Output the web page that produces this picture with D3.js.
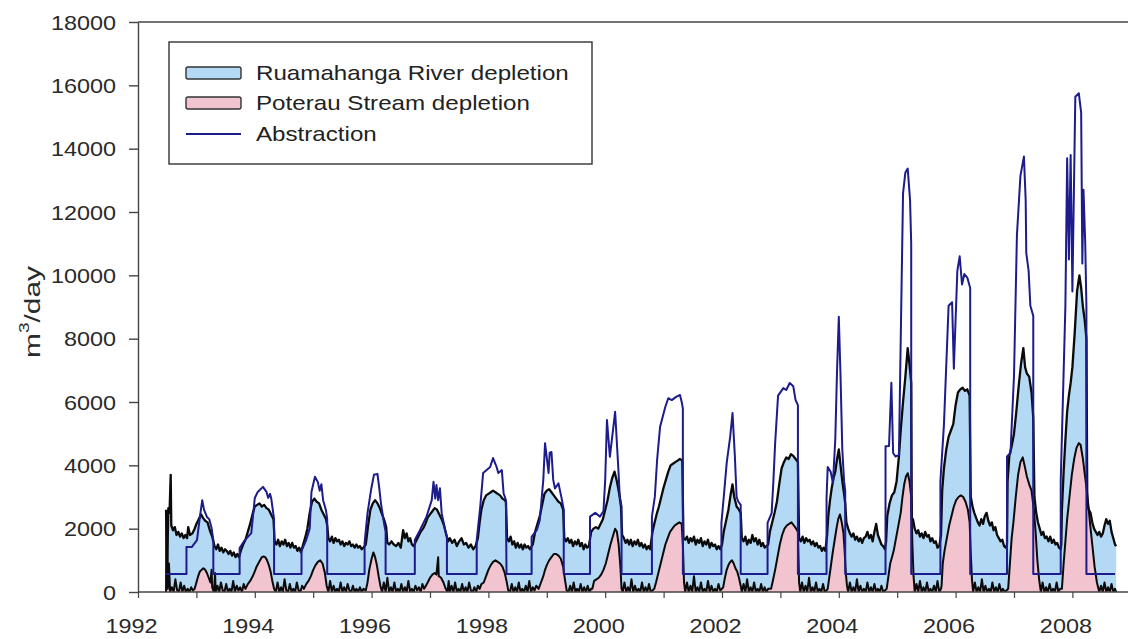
<!DOCTYPE html>
<html><head><meta charset="utf-8">
<script src="https://cdn.jsdelivr.net/npm/d3@7"></script>
<style>
html,body{margin:0;padding:0;background:#fff;}
svg{display:block;font-family:"Liberation Sans",Arial,sans-serif;}
</style></head><body>
<svg id="chart" width="1128" height="639"></svg>
<script>
// ---------------- data ----------------
const legendLabels = ["Ruamahanga River depletion", "Poterau Stream depletion", "Abstraction"];
const yTicks = [0, 2000, 4000, 6000, 8000, 10000, 12000, 14000, 16000, 18000];
const xTicks = [1992, 1993, 1994, 1995, 1996, 1997, 1998, 1999, 2000, 2001, 2002, 2003, 2004, 2005, 2006, 2007, 2008];
const xTickLabels = ["1992", "", "1994", "", "1996", "", "1998", "", "2000", "", "2002", "", "2004", "", "2006", "", "2008"];

// Abstraction [year, m3/day]
const abstraction = [
[1992.48,570],[1992.83,570],[1992.83,1420],[1992.92,1420],[1993.01,1640],[1993.06,2370],[1993.10,2900],[1993.13,2600],[1993.18,2370],[1993.22,2300],[1993.26,2020],[1993.29,1640],[1993.29,570],
[1993.74,570],[1993.74,1390],[1993.83,1640],[1993.94,1860],[1994.00,2970],[1994.05,3160],[1994.14,3320],[1994.20,3160],[1994.23,2970],[1994.26,3100],[1994.28,2970],[1994.31,2570],[1994.33,2300],[1994.33,570],
[1994.80,570],[1994.80,1300],[1994.88,1640],[1994.94,2000],[1994.97,3160],[1995.03,3640],[1995.08,3470],[1995.11,3200],[1995.14,3400],[1995.17,2900],[1995.22,2570],[1995.24,2300],[1995.24,570],
[1995.88,570],[1995.88,1550],[1995.93,2490],[1995.99,3220],[1996.04,3700],[1996.10,3730],[1996.13,3300],[1996.16,2800],[1996.21,2200],[1996.24,1900],[1996.24,570],
[1996.74,570],[1996.74,1640],[1996.83,1960],[1996.94,2380],[1997.03,2900],[1997.06,3480],[1997.09,2950],[1997.11,3380],[1997.14,2900],[1997.17,3280],[1997.20,2490],[1997.26,1960],[1997.29,1750],[1997.29,570],
[1997.80,570],[1997.80,1640],[1997.86,2690],[1997.91,3760],[1998.03,3950],[1998.08,4230],[1998.14,3950],[1998.17,3760],[1998.23,3850],[1998.26,3120],[1998.30,2900],[1998.31,570],
[1998.74,570],[1998.74,1740],[1998.83,1960],[1998.88,2270],[1998.94,3540],[1998.97,4700],[1999.03,3760],[1999.05,4400],[1999.08,4420],[1999.11,3540],[1999.14,3270],[1999.20,3430],[1999.26,2900],[1999.29,2600],[1999.29,570],
[1999.74,570],[1999.74,2380],[1999.83,2500],[1999.91,2380],[1999.97,2550],[2000.00,3540],[2000.03,5430],[2000.08,4270],[2000.17,5690],[2000.22,4060],[2000.25,3010],[2000.28,2700],[2000.28,570],
[2000.80,570],[2000.80,2380],[2000.85,3010],[2000.89,4200],[2000.94,5220],[2001.03,5850],[2001.08,6120],[2001.14,6060],[2001.22,6170],[2001.28,6220],[2001.31,6000],[2001.33,5800],[2001.33,570],
[2001.99,570],[2001.99,2180],[2002.03,3000],[2002.08,4070],[2002.14,4900],[2002.18,5650],[2002.22,4300],[2002.25,3000],[2002.28,2850],[2002.32,2750],[2002.32,570],
[2002.78,570],[2002.78,2180],[2002.85,2490],[2002.88,3500],[2002.91,4700],[2002.96,6200],[2003.05,6440],[2003.10,6380],[2003.16,6600],[2003.22,6500],[2003.26,6060],[2003.30,5900],[2003.30,570],
[2003.79,570],[2003.79,2950],[2003.81,3950],[2003.86,3800],[2003.90,3440],[2003.94,4830],[2003.97,7000],[2004.00,8690],[2004.03,6800],[2004.06,4500],[2004.09,3500],[2004.11,3200],[2004.11,570],
[2004.80,570],[2004.80,4600],[2004.86,4610],[2004.90,6610],[2004.93,4390],[2004.97,4280],[2005.03,4330],[2005.06,7940],[2005.10,12590],[2005.14,13250],[2005.18,13370],[2005.22,12380],[2005.24,11000],[2005.24,570],
[2005.74,570],[2005.74,3500],[2005.80,5270],[2005.88,9040],[2005.94,9150],[2005.97,7050],[2006.03,10150],[2006.07,10600],[2006.11,9710],[2006.15,10040],[2006.20,9930],[2006.25,9600],[2006.25,570],
[2006.88,570],[2006.88,4280],[2006.94,4390],[2007.00,6830],[2007.05,11260],[2007.11,13140],[2007.17,13750],[2007.20,12370],[2007.21,10710],[2007.25,10150],[2007.28,9040],[2007.33,8720],[2007.33,570],
[2007.80,570],[2007.80,3500],[2007.88,9040],[2007.91,13700],[2007.94,10500],[2007.97,13800],[2008.00,9490],[2008.05,15640],[2008.11,15750],[2008.15,15140],[2008.17,10370],[2008.19,12700],[2008.22,11000],[2008.24,9000],[2008.24,570],
[2008.73,570]
];

// Ruamahanga River depletion (upper black line, blue fill) [year, m3/day]
const ruamahangaDepletion = [
[1992.48,2600],[1992.50,900],[1992.52,2650],[1992.54,2500],[1992.56,3700],[1992.57,2100],[1992.60,1950],[1992.63,2050],[1992.66,1800],[1992.69,1900],[1992.72,1750],[1992.75,1850],[1992.78,1700],[1992.81,1800],[1992.84,1700],[1992.86,2050],[1992.89,1800],[1992.93,1850],[1992.97,2000],[1993.00,2150],[1993.04,2300],[1993.08,2450],[1993.11,2350],[1993.15,2250],[1993.19,2200],[1993.23,1950],[1993.27,1750],[1993.29,1600],
[1993.31,1450],[1993.34,1350],[1993.37,1500],[1993.40,1300],[1993.43,1400],[1993.46,1250],[1993.49,1350],[1993.52,1300],[1993.55,1200],[1993.58,1300],[1993.61,1150],[1993.64,1250],[1993.67,1100],[1993.70,1200],[1993.73,1100],
[1993.76,1300],[1993.80,1500],[1993.84,1650],[1993.88,1900],[1993.92,2150],[1993.96,2450],[1994.00,2700],[1994.04,2750],[1994.08,2800],[1994.12,2700],[1994.16,2750],[1994.20,2650],[1994.24,2600],[1994.28,2450],[1994.32,2300],
[1994.34,1600],[1994.37,1500],[1994.40,1650],[1994.43,1450],[1994.46,1600],[1994.49,1500],[1994.52,1650],[1994.55,1450],[1994.58,1550],[1994.61,1400],[1994.64,1550],[1994.67,1400],[1994.70,1450],[1994.73,1300],[1994.76,1400],[1994.79,1250],
[1994.82,1450],[1994.86,1700],[1994.90,2000],[1994.94,2500],[1994.98,2850],[1995.02,2950],[1995.06,2850],[1995.10,2800],[1995.14,2600],[1995.18,2450],[1995.22,2300],[1995.24,2100],
[1995.26,1700],[1995.29,1600],[1995.32,1750],[1995.35,1550],[1995.38,1700],[1995.41,1600],[1995.44,1650],[1995.47,1500],[1995.50,1600],[1995.53,1450],[1995.56,1550],[1995.59,1500],[1995.62,1600],[1995.65,1450],[1995.68,1500],[1995.71,1400],[1995.74,1500],[1995.77,1400],[1995.80,1450],[1995.83,1350],[1995.86,1400],
[1995.90,1500],[1995.94,2100],[1995.98,2600],[1996.02,2800],[1996.06,2900],[1996.10,2800],[1996.14,2650],[1996.18,2450],[1996.22,2250],[1996.25,2050],
[1996.27,1550],[1996.30,1500],[1996.34,1600],[1996.38,1500],[1996.42,1450],[1996.46,1550],[1996.50,1400],[1996.54,1950],[1996.57,1700],[1996.60,1850],[1996.63,1600],[1996.66,1700],[1996.69,1500],[1996.72,1450],
[1996.76,1600],[1996.80,1750],[1996.84,1900],[1996.88,2000],[1996.92,2150],[1996.96,2350],[1997.00,2450],[1997.04,2550],[1997.08,2650],[1997.12,2600],[1997.16,2450],[1997.20,2300],[1997.24,2100],[1997.28,1800],
[1997.31,1600],[1997.34,1700],[1997.38,1550],[1997.42,1650],[1997.46,1450],[1997.50,1600],[1997.54,1700],[1997.58,1500],[1997.62,1550],[1997.66,1400],[1997.70,1500],[1997.74,1350],[1997.78,1450],
[1997.82,1700],[1997.85,2200],[1997.88,2600],[1997.92,2900],[1997.96,3050],[1998.00,3100],[1998.04,3150],[1998.08,3200],[1998.12,3150],[1998.16,3100],[1998.20,3050],[1998.24,2950],[1998.28,2900],[1998.30,2850],
[1998.32,1700],[1998.35,1600],[1998.38,1750],[1998.41,1500],[1998.44,1600],[1998.47,1400],[1998.50,1550],[1998.53,1400],[1998.56,1500],[1998.59,1350],[1998.62,1500],[1998.65,1400],[1998.68,1450],[1998.71,1350],
[1998.76,1500],[1998.80,1900],[1998.84,2150],[1998.88,2400],[1998.92,2750],[1998.96,3100],[1999.00,3200],[1999.04,3250],[1999.08,3150],[1999.12,3050],[1999.16,2950],[1999.20,2850],[1999.24,2800],[1999.28,2600],
[1999.30,1700],[1999.33,1600],[1999.36,1700],[1999.39,1550],[1999.42,1650],[1999.45,1450],[1999.48,1600],[1999.51,1500],[1999.54,1650],[1999.57,1450],[1999.60,1550],[1999.63,1350],[1999.66,1500],[1999.69,1400],[1999.72,1450],
[1999.76,1900],[1999.80,2000],[1999.84,2050],[1999.88,2000],[1999.92,2150],[1999.96,2300],[2000.00,2600],[2000.04,2900],[2000.08,3300],[2000.12,3600],[2000.16,3800],[2000.20,3500],[2000.24,3100],[2000.27,2700],
[2000.29,1800],[2000.32,1700],[2000.35,1550],[2000.38,1650],[2000.41,1500],[2000.44,1650],[2000.47,1450],[2000.50,1600],[2000.53,1500],[2000.56,1650],[2000.59,1450],[2000.62,1550],[2000.65,1400],[2000.68,1500],[2000.71,1350],[2000.74,1450],[2000.77,1350],
[2000.81,1900],[2000.84,2150],[2000.88,2450],[2000.92,2700],[2000.96,3000],[2001.00,3300],[2001.04,3550],[2001.08,3800],[2001.12,4000],[2001.16,4050],[2001.20,4100],[2001.24,4150],[2001.28,4200],[2001.32,4150],
[2001.34,1700],[2001.37,1650],[2001.40,1750],[2001.43,1550],[2001.46,1700],[2001.49,1600],[2001.52,1750],[2001.55,1500],[2001.58,1650],[2001.61,1550],[2001.64,1700],[2001.67,1450],[2001.70,1600],[2001.73,1500],[2001.76,1650],[2001.79,1400],[2001.82,1550],[2001.85,1450],[2001.88,1500],[2001.91,1350],[2001.94,1450],[2001.97,1350],
[2002.00,1500],[2002.03,1900],[2002.07,2250],[2002.11,2600],[2002.15,3100],[2002.18,3400],[2002.21,3000],[2002.25,2700],[2002.29,2600],[2002.32,2500],
[2002.34,1700],[2002.37,1600],[2002.40,1750],[2002.43,1500],[2002.46,1650],[2002.49,1550],[2002.52,1800],[2002.55,1600],[2002.58,1700],[2002.61,1500],[2002.64,1650],[2002.67,1450],[2002.70,1550],[2002.73,1400],[2002.76,1450],
[2002.79,1500],[2002.82,1900],[2002.86,2200],[2002.90,2500],[2002.94,2850],[2002.98,3400],[2003.02,3900],[2003.06,4100],[2003.10,4250],[2003.14,4200],[2003.18,4350],[2003.22,4300],[2003.26,4200],[2003.30,4100],
[2003.32,1700],[2003.35,1600],[2003.38,1750],[2003.41,1550],[2003.44,1700],[2003.47,1600],[2003.50,1650],[2003.53,1500],[2003.56,1600],[2003.59,1450],[2003.62,1550],[2003.65,1400],[2003.68,1450],[2003.71,1300],[2003.74,1400],[2003.77,1300],
[2003.80,1800],[2003.82,2400],[2003.85,2900],[2003.88,3300],[2003.91,3600],[2003.94,3800],[2003.97,4200],[2004.00,4500],[2004.03,4000],[2004.06,3500],[2004.09,3100],[2004.11,2800],
[2004.13,2200],[2004.16,2000],[2004.19,1850],[2004.22,1750],[2004.25,1850],[2004.28,1650],[2004.31,1750],[2004.34,1600],[2004.37,1700],[2004.40,1550],[2004.43,1700],[2004.46,1750],[2004.49,1900],[2004.52,1700],[2004.55,1800],[2004.58,1600],[2004.61,1900],[2004.64,2150],[2004.67,1800],[2004.70,1650],[2004.73,1500],[2004.76,1450],[2004.79,1350],
[2004.81,1600],[2004.83,2400],[2004.87,2800],[2004.91,3050],[2004.95,3150],[2004.99,3500],[2005.03,4300],[2005.06,5100],[2005.10,6000],[2005.14,6800],[2005.18,7700],[2005.21,7200],[2005.24,6600],
[2005.25,2300],[2005.27,2300],[2005.30,2000],[2005.33,1850],[2005.36,1950],[2005.39,1750],[2005.42,1850],[2005.45,1700],[2005.48,1900],[2005.51,1750],[2005.54,1800],[2005.57,1600],[2005.60,1700],[2005.63,1550],[2005.66,1600],[2005.69,1400],[2005.72,1450],
[2005.75,1800],[2005.77,3200],[2005.80,3900],[2005.84,4500],[2005.88,4900],[2005.92,5100],[2005.96,5300],[2006.00,5900],[2006.04,6300],[2006.08,6400],[2006.12,6450],[2006.16,6350],[2006.20,6400],[2006.24,6200],
[2006.26,3000],[2006.29,2700],[2006.32,2500],[2006.35,2350],[2006.38,2200],[2006.41,2100],[2006.44,2300],[2006.47,2150],[2006.50,2400],[2006.53,2500],[2006.56,2250],[2006.59,2100],[2006.62,2200],[2006.65,1950],[2006.68,2050],[2006.71,1800],[2006.74,1700],[2006.77,1600],[2006.80,1650],[2006.83,1450],[2006.86,1400],
[2006.88,1500],[2006.89,3500],[2006.92,4300],[2006.96,4600],[2007.00,5000],[2007.04,5700],[2007.08,6500],[2007.12,7200],[2007.16,7700],[2007.19,7100],[2007.22,6900],[2007.26,6800],[2007.30,6300],[2007.33,5500],
[2007.35,3000],[2007.38,2500],[2007.41,2200],[2007.44,2000],[2007.47,1800],[2007.50,1900],[2007.53,1700],[2007.56,1750],[2007.59,1600],[2007.62,1750],[2007.65,1550],[2007.68,1650],[2007.71,1500],[2007.74,1550],[2007.77,1400],[2007.80,1350],
[2007.81,1500],[2007.82,2600],[2007.85,3800],[2007.88,4800],[2007.91,5700],[2007.94,6200],[2007.97,6600],[2008.00,7100],[2008.04,8200],[2008.08,9500],[2008.12,10000],[2008.15,9600],[2008.18,9000],[2008.21,8600],[2008.24,8000],
[2008.255,2800],[2008.28,2600],[2008.31,2500],[2008.34,2200],[2008.37,2000],[2008.40,1900],[2008.43,1800],[2008.46,1900],[2008.49,1750],[2008.52,1850],[2008.55,2100],[2008.58,2300],[2008.61,2150],[2008.64,2250],[2008.67,1900],[2008.70,1700],[2008.73,1500],[2008.75,1450]
];

// Poterau Stream depletion (lower black line, pink fill) [year, m3/day]
const poterauDepletion = [
[1992.48,0],[1992.485,2400],[1992.49,300],[1992.50,1800],[1992.51,100],[1992.53,900],[1992.55,0],[1992.58,150],[1992.61,0],[1992.64,400],[1992.67,50],[1992.70,0],[1992.73,300],[1992.76,0],[1992.79,200],[1992.82,0],[1992.85,100],[1992.88,0],[1992.91,150],[1992.94,50],
[1992.97,100],[1993.00,300],[1993.03,500],[1993.06,650],[1993.09,700],[1993.12,750],[1993.15,700],[1993.18,600],[1993.21,450],[1993.24,300],[1993.26,700],[1993.27,150],[1993.30,0],[1993.32,600],[1993.33,0],
[1993.36,200],[1993.39,0],[1993.42,300],[1993.45,50],[1993.48,0],[1993.51,250],[1993.54,0],[1993.57,100],[1993.60,0],[1993.63,350],[1993.66,0],[1993.69,200],[1993.72,50],[1993.75,150],[1993.78,0],[1993.81,250],[1993.84,100],
[1993.88,250],[1993.92,350],[1993.96,480],[1994.00,650],[1994.03,800],[1994.06,900],[1994.09,1000],[1994.12,1100],[1994.15,1120],[1994.18,1100],[1994.21,1000],[1994.24,850],[1994.27,650],[1994.30,350],[1994.33,100],[1994.36,0],
[1994.39,300],[1994.42,0],[1994.45,150],[1994.48,0],[1994.51,400],[1994.54,50],[1994.57,0],[1994.60,250],[1994.63,0],[1994.66,100],[1994.69,0],[1994.72,300],[1994.75,50],[1994.78,0],[1994.81,200],[1994.84,100],
[1994.88,250],[1994.92,350],[1994.96,500],[1995.00,700],[1995.04,850],[1995.08,950],[1995.12,1000],[1995.16,900],[1995.20,600],[1995.23,200],[1995.26,0],
[1995.29,350],[1995.32,0],[1995.35,200],[1995.38,0],[1995.41,100],[1995.44,0],[1995.47,300],[1995.50,0],[1995.53,150],[1995.56,0],[1995.59,250],[1995.62,50],[1995.65,0],[1995.68,200],[1995.71,0],[1995.74,100],[1995.77,0],[1995.80,150],[1995.83,0],[1995.86,100],[1995.90,50],
[1995.93,300],[1995.96,700],[1996.00,1050],[1996.03,1250],[1996.06,1100],[1996.09,850],[1996.12,500],[1996.15,200],[1996.18,0],
[1996.21,300],[1996.24,0],[1996.27,450],[1996.30,0],[1996.33,150],[1996.36,0],[1996.39,300],[1996.42,0],[1996.45,100],[1996.48,0],[1996.51,250],[1996.54,0],[1996.57,150],[1996.60,0],[1996.63,350],[1996.66,0],[1996.69,100],[1996.72,0],[1996.75,200],[1996.78,50],[1996.81,150],[1996.84,0],[1996.87,250],[1996.90,100],[1996.93,200],
[1996.96,300],[1997.00,450],[1997.04,550],[1997.08,600],[1997.11,550],[1997.14,1100],[1997.15,500],[1997.19,450],[1997.23,300],[1997.27,100],[1997.30,0],[1997.32,350],[1997.34,0],
[1997.37,200],[1997.40,0],[1997.43,300],[1997.46,0],[1997.49,100],[1997.52,0],[1997.55,250],[1997.58,0],[1997.61,150],[1997.64,0],[1997.67,300],[1997.70,50],[1997.73,0],[1997.76,150],[1997.79,0],[1997.82,200],[1997.85,100],[1997.88,250],
[1997.92,300],[1997.96,500],[1998.00,700],[1998.04,850],[1998.08,950],[1998.12,1000],[1998.16,950],[1998.20,900],[1998.24,800],[1998.28,600],[1998.31,350],[1998.34,50],[1998.37,0],
[1998.40,250],[1998.43,0],[1998.46,150],[1998.49,0],[1998.52,300],[1998.55,0],[1998.58,100],[1998.61,0],[1998.64,200],[1998.67,0],[1998.70,350],[1998.73,0],[1998.76,150],[1998.79,50],[1998.82,200],[1998.86,100],
[1998.90,300],[1998.94,500],[1998.97,700],[1999.00,850],[1999.04,1000],[1999.08,1100],[1999.12,1200],[1999.16,1200],[1999.20,1150],[1999.24,1050],[1999.28,800],[1999.31,400],[1999.34,50],[1999.37,0],
[1999.40,200],[1999.43,0],[1999.46,300],[1999.49,0],[1999.52,100],[1999.55,0],[1999.58,250],[1999.61,0],[1999.64,150],[1999.67,0],[1999.70,200],[1999.73,0],[1999.76,100],
[1999.78,100],[1999.81,350],[1999.85,400],[1999.89,450],[1999.93,550],[1999.97,700],[2000.01,900],[2000.05,1200],[2000.09,1500],[2000.13,1750],[2000.17,2000],[2000.20,1900],[2000.23,1500],[2000.26,800],[2000.28,100],[2000.30,0],
[2000.33,300],[2000.36,0],[2000.39,150],[2000.42,0],[2000.45,400],[2000.48,0],[2000.51,200],[2000.54,0],[2000.57,100],[2000.60,0],[2000.63,300],[2000.66,0],[2000.69,150],[2000.72,0],[2000.75,250],[2000.78,0],
[2000.84,100],[2000.87,300],[2000.91,600],[2000.95,900],[2000.99,1200],[2001.03,1500],[2001.07,1700],[2001.11,1900],[2001.15,2000],[2001.19,2100],[2001.23,2150],[2001.27,2200],[2001.31,2150],[2001.33,1500],[2001.35,300],[2001.37,0],
[2001.40,300],[2001.43,0],[2001.46,200],[2001.49,0],[2001.52,500],[2001.55,0],[2001.58,150],[2001.61,0],[2001.64,300],[2001.67,0],[2001.70,100],[2001.73,0],[2001.76,350],[2001.79,0],[2001.82,200],[2001.85,0],[2001.88,100],[2001.91,0],[2001.94,250],[2001.97,50],
[2002.00,100],[2002.02,150],[2002.05,450],[2002.08,700],[2002.11,850],[2002.14,950],[2002.17,1000],[2002.20,900],[2002.23,750],[2002.26,650],[2002.29,450],[2002.32,200],[2002.34,0],
[2002.37,250],[2002.40,0],[2002.43,400],[2002.46,0],[2002.49,150],[2002.52,0],[2002.55,300],[2002.58,0],[2002.61,100],[2002.64,0],[2002.67,250],[2002.70,0],[2002.73,150],[2002.76,0],[2002.79,100],
[2002.84,100],[2002.87,350],[2002.91,700],[2002.95,1100],[2002.99,1500],[2003.03,1800],[2003.07,2000],[2003.11,2100],[2003.15,2150],[2003.19,2200],[2003.23,2100],[2003.27,2000],[2003.30,1900],[2003.32,300],[2003.34,0],
[2003.37,300],[2003.40,0],[2003.43,200],[2003.46,0],[2003.49,450],[2003.52,0],[2003.55,150],[2003.58,0],[2003.61,300],[2003.64,0],[2003.67,100],[2003.70,0],[2003.73,250],[2003.76,0],[2003.79,50],
[2003.81,100],[2003.84,500],[2003.87,900],[2003.90,1300],[2003.93,1650],[2003.96,2000],[2003.99,2300],[2004.02,2450],[2004.05,2200],[2004.08,1850],[2004.10,1300],[2004.12,600],[2004.14,200],[2004.16,0],
[2004.19,300],[2004.22,0],[2004.25,150],[2004.28,0],[2004.31,400],[2004.34,0],[2004.37,200],[2004.40,0],[2004.43,100],[2004.46,0],[2004.49,300],[2004.52,0],[2004.55,150],[2004.58,0],[2004.61,250],[2004.64,0],[2004.67,100],[2004.70,0],[2004.73,200],[2004.76,0],[2004.79,50],
[2004.82,100],[2004.85,500],[2004.88,900],[2004.91,1100],[2004.94,1300],[2004.97,1600],[2005.00,1900],[2005.03,2200],[2005.06,2500],[2005.09,3000],[2005.12,3400],[2005.15,3650],[2005.18,3750],[2005.21,3500],[2005.24,3000],[2005.26,1500],[2005.28,500],[2005.30,0],
[2005.33,250],[2005.36,0],[2005.39,350],[2005.42,0],[2005.45,150],[2005.48,0],[2005.51,300],[2005.54,0],[2005.57,100],[2005.60,0],[2005.63,200],[2005.66,0],[2005.69,350],[2005.72,0],[2005.75,100],
[2005.76,200],[2005.78,900],[2005.81,1300],[2005.85,1700],[2005.89,2100],[2005.93,2400],[2005.97,2700],[2006.01,2900],[2006.05,3000],[2006.09,3050],[2006.13,3000],[2006.17,2850],[2006.21,2600],[2006.24,2200],[2006.26,1200],[2006.28,400],[2006.30,0],
[2006.33,300],[2006.36,0],[2006.39,150],[2006.42,0],[2006.45,400],[2006.48,0],[2006.51,200],[2006.54,0],[2006.57,100],[2006.60,0],[2006.63,300],[2006.66,0],[2006.69,150],[2006.72,0],[2006.75,250],[2006.78,0],[2006.81,100],[2006.84,0],[2006.87,50],
[2006.90,100],[2006.93,900],[2006.96,1700],[2006.99,2200],[2007.03,3000],[2007.07,3700],[2007.11,4100],[2007.15,4250],[2007.18,4000],[2007.22,3650],[2007.26,3400],[2007.30,3200],[2007.34,2600],[2007.37,1900],[2007.40,1000],[2007.43,400],[2007.46,0],
[2007.49,300],[2007.52,0],[2007.55,150],[2007.58,0],[2007.61,250],[2007.64,0],[2007.67,100],[2007.70,0],[2007.73,300],[2007.76,0],[2007.79,100],
[2007.82,100],[2007.85,900],[2007.88,1600],[2007.91,2300],[2007.95,3000],[2007.99,3700],[2008.03,4200],[2008.07,4550],[2008.11,4700],[2008.14,4650],[2008.18,4200],[2008.22,3600],[2008.26,3000],[2008.30,2200],[2008.34,1500],[2008.38,800],[2008.42,300],[2008.46,0],
[2008.49,200],[2008.52,0],[2008.55,300],[2008.58,0],[2008.61,150],[2008.64,0],[2008.67,250],[2008.70,0],[2008.73,100],[2008.75,0]
];

// ---------------- drawing ----------------
const colors = { blue: "#b3d9f5", pink: "#f1c4d0", navy: "#1c1c8c", black: "#0a0a0a", axis: "#444" };
const svg = d3.select("#chart");
const x = d3.scaleLinear().domain([1992, 2009]).range([138, 138 + 17 * 58.4]);
const y = d3.scaleLinear().domain([0, 18000]).range([592, 22]);

function stretch(sel, k) {
  sel.each(function () {
    const w = this.getComputedTextLength();
    this.setAttribute("textLength", (w * k).toFixed(1));
    this.setAttribute("lengthAdjust", "spacingAndGlyphs");
  });
}

svg.append("defs").append("clipPath").attr("id", "plotclip")
  .append("rect").attr("x", 138).attr("y", 22).attr("width", 1128 - 138).attr("height", 570);

const plot = svg.append("g").attr("clip-path", "url(#plotclip)");

const area = d3.area().x(d => x(d[0])).y0(y(0)).y1(d => y(d[1]));
const line = d3.line().x(d => x(d[0])).y(d => y(d[1]));

plot.append("path").datum(ruamahangaDepletion).attr("d", area).attr("fill", colors.blue);
plot.append("path").datum(poterauDepletion).attr("d", area).attr("fill", colors.pink);
plot.append("path").datum(poterauDepletion).attr("d", line).attr("fill", "none")
  .attr("stroke", colors.black).attr("stroke-width", 2).attr("stroke-linejoin", "round");
plot.append("path").datum(ruamahangaDepletion).attr("d", line).attr("fill", "none")
  .attr("stroke", colors.black).attr("stroke-width", 2.3).attr("stroke-linejoin", "round");
plot.append("path").datum(abstraction).attr("d", line).attr("fill", "none")
  .attr("stroke", colors.navy).attr("stroke-width", 2).attr("stroke-linejoin", "round");

// top frame line
svg.append("line").attr("x1", 138).attr("x2", 1128).attr("y1", y(18000)).attr("y2", y(18000))
  .attr("stroke", colors.axis).attr("stroke-width", 1.4);

// y axis
const gy = svg.append("g").attr("transform", "translate(138,0)")
  .call(d3.axisLeft(y).tickValues(yTicks).tickSize(9).tickSizeOuter(0).tickPadding(13).tickFormat(d3.format("d")));
gy.select(".domain").attr("stroke", colors.axis).attr("stroke-width", 1.4);
gy.selectAll(".tick line").attr("stroke", colors.axis).attr("stroke-width", 1.4);
gy.selectAll(".tick text").attr("font-size", 20).attr("fill", "#2a2a2a")
  .attr("font-family", "'Liberation Sans', Arial, sans-serif").attr("dy", "0.36em");
stretch(gy.selectAll(".tick text"), 1.17);

// x axis
const gx = svg.append("g").attr("transform", "translate(0,592)")
  .call(d3.axisBottom(x).tickValues(xTicks).tickSize(6).tickSizeOuter(0).tickFormat((d, i) => xTickLabels[i]));
gx.select(".domain").attr("stroke", colors.axis).attr("stroke-width", 1.4)
  .attr("d", `M138,0H1128`);
gx.selectAll(".tick line").attr("stroke", colors.axis).attr("stroke-width", 1.2);
gx.selectAll(".tick text").attr("font-size", 20).attr("fill", "#2a2a2a")
  .attr("font-family", "'Liberation Sans', Arial, sans-serif").attr("y", 41).attr("dy", 0).attr("x", -7);
stretch(gx.selectAll(".tick text").filter(function () { return this.textContent !== ""; }), 1.17);

// y label
const yl = svg.append("text").attr("transform", "translate(40,312) rotate(-90)")
  .attr("text-anchor", "middle").attr("font-size", 22).attr("fill", "#2a2a2a");
yl.append("tspan").text("m");
yl.append("tspan").attr("font-size", 14).attr("dy", -11).text("3");
yl.append("tspan").attr("dy", 11).text("/day");
yl.attr("textLength", 92).attr("lengthAdjust", "spacingAndGlyphs");

// legend
const lg = svg.append("g");
lg.append("rect").attr("x", 169).attr("y", 42).attr("width", 423).attr("height", 122)
  .attr("fill", "#fff").attr("stroke", "#333").attr("stroke-width", 1.4);
const rowY = [73, 103, 134];
lg.append("rect").attr("x", 186).attr("y", rowY[0] - 6).attr("width", 55).attr("height", 12).attr("rx", 2)
  .attr("fill", colors.blue).attr("stroke", "#333").attr("stroke-width", 1.4);
lg.append("rect").attr("x", 186).attr("y", rowY[1] - 6).attr("width", 55).attr("height", 12).attr("rx", 2)
  .attr("fill", colors.pink).attr("stroke", "#333").attr("stroke-width", 1.4);
lg.append("line").attr("x1", 186).attr("x2", 241).attr("y1", rowY[2]).attr("y2", rowY[2])
  .attr("stroke", colors.navy).attr("stroke-width", 2);
const legendTexts = lg.selectAll("text.lt").data(legendLabels).enter().append("text")
  .attr("class", "lt").attr("x", 256).attr("y", (d, i) => rowY[i] + 7)
  .attr("font-size", 21).attr("fill", "#222").text(d => d);
stretch(legendTexts, 1.15);
</script>
</body></html>
